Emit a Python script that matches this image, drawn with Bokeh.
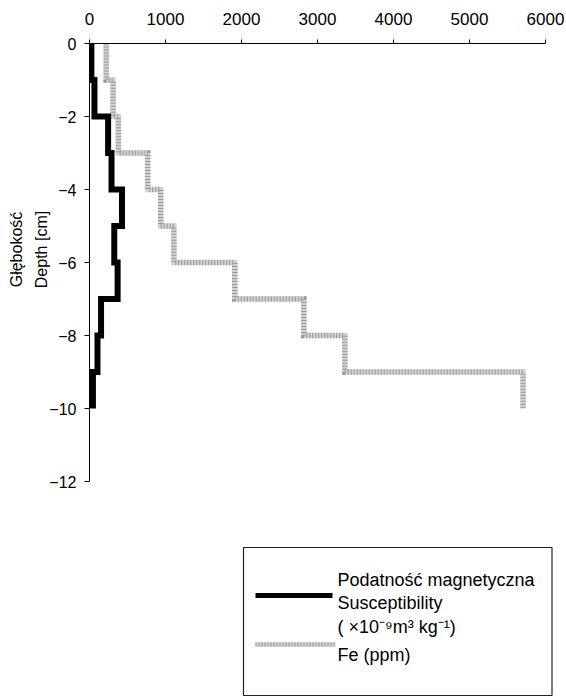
import math
from bokeh.plotting import figure
from bokeh.models import Range1d, FixedTicker, Label
from bokeh.core.properties import value
from bokeh.embed import file_html
from bokeh.resources import INLINE

# ---- data ----
depth_top = [0, 1, 2, 3, 4, 5, 6, 7, 8, 9]          # cm (depth below surface)
depth_bottom = [1, 2, 3, 4, 5, 6, 7, 8, 9, 10]
susceptibility = [25, 65, 245, 290, 428, 326, 370, 152, 105, 45]   # x10^-9 m3 kg-1
fe_ppm = [220, 310, 380, 765, 937, 1110, 1912, 2820, 3360, 5705]  # ppm
x_ticks = [0, 1000, 2000, 3000, 4000, 5000, 6000]
y_ticks = [0, -2, -4, -6, -8, -10, -12]
y_title = ["Głębokość", "Depth [cm]"]
legend_sus = ["Podatność magnetyczna", "Susceptibility", "( ×10⁻⁹m³ kg⁻¹)"]
legend_fe = "Fe (ppm)"

FONT = "Liberation Sans"
FE_BASE, FE_DOTS = "#d2d2d2", "#9a9a9a"   # stippled grey band

# ---- layout geometry (pixels) ----
W, H = 566, 697
LEFT, TOP = 89, 43            # frame left / top
AX_RIGHT, AX_BOTTOM = 545, 481  # where 6000 and -12 fall
FRAME_RIGHT = 560
X_MAX, Y_MIN = 6000, -12
px_per_x = (AX_RIGHT - LEFT) / X_MAX
px_per_y = (AX_BOTTOM - TOP) / (-Y_MIN)
x_end = (FRAME_RIGHT - LEFT) / px_per_x
y_start = -(H - TOP) / px_per_y
TITLE_CENTER = 249            # page y of the rotated axis-title centre
TITLE_X = [15.5, 40.5]        # page x of the two title lines


def px(x):   # page pixel -> data x (decoration placement only)
    return (x - LEFT) / px_per_x


def py(y):   # page pixel -> data y (decoration placement only)
    return -(y - TOP) / px_per_y


def step_path(vals, tops, bottoms):
    xs, ys = [], []
    for v, t, b in zip(vals, tops, bottoms):
        xs += [v, v]
        ys += [-t, -b]
    return xs, ys


def stipple_line(fig, xs, ys, width):
    fig.line(xs, ys, line_color=FE_BASE, line_width=width, line_join="miter")
    fig.line(xs, ys, line_color=FE_DOTS, line_width=width, line_join="miter",
             line_dash="1 2")


p = figure(width=W, height=H, x_range=Range1d(0, x_end), y_range=Range1d(y_start, 0),
           x_axis_location="above", output_backend="svg", toolbar_location=None,
           min_border_left=LEFT, min_border_right=W - FRAME_RIGHT,
           min_border_top=TOP, min_border_bottom=0)
p.outline_line_color = None
p.grid.visible = False

fx, fy = step_path(fe_ppm, depth_top, depth_bottom)
stipple_line(p, fx, fy, 5.5)
sx, sy = step_path(susceptibility, depth_top, depth_bottom)
p.line(sx, sy, line_color="black", line_width=6, line_join="miter")

xa = p.xaxis[0]
xa.ticker = FixedTicker(ticks=x_ticks)
xa.bounds = (0, X_MAX)
xa.major_tick_out = 4
xa.major_tick_in = 0
xa.minor_tick_out = 0
xa.minor_tick_in = 0
xa.major_label_standoff = 15
xa.major_label_text_font = FONT
xa.major_label_text_font_size = "17px"
xa.major_label_text_color = "black"
xa.axis_line_color = "black"

ya = p.yaxis[0]
ya.ticker = FixedTicker(ticks=y_ticks)
ya.bounds = (Y_MIN, 0)
ya.major_tick_out = 5
ya.major_tick_in = 0
ya.minor_tick_out = 0
ya.minor_tick_in = 0
ya.major_label_standoff = 8
ya.major_label_text_font = FONT
ya.major_label_text_font_size = "16px"
ya.major_label_text_color = "black"
ya.axis_line_color = "black"

# rotated two-line y-axis title, placed in the left side panel
for txt, xp in zip(y_title, TITLE_X):
    p.add_layout(Label(x=px(xp), y=py(TITLE_CENTER), text=txt, angle=math.pi / 2,
                       text_font=FONT, text_font_size="16px", text_color="black",
                       text_align="center", text_baseline="middle"), "left")

# ---- legend ----
p.quad(left=[px(243)], right=[px(551.5)], top=[py(547)], bottom=[py(695)],
       fill_color=None, line_color="#222222", line_width=1.2)
p.line([px(255), px(332)], [py(595), py(595)], line_color="black", line_width=5)
stipple_line(p, [px(255), px(335)], [py(644), py(644)], 4.5)
p.text(x=[px(337)] * 4, y=[py(579), py(602), py(626), py(654)],
       text=legend_sus + [legend_fe],
       text_font=value(FONT), text_font_size="18px", text_color="black",
       text_baseline="alphabetic", text_align="left")

open("out.html", "w").write(file_html(p, INLINE))
